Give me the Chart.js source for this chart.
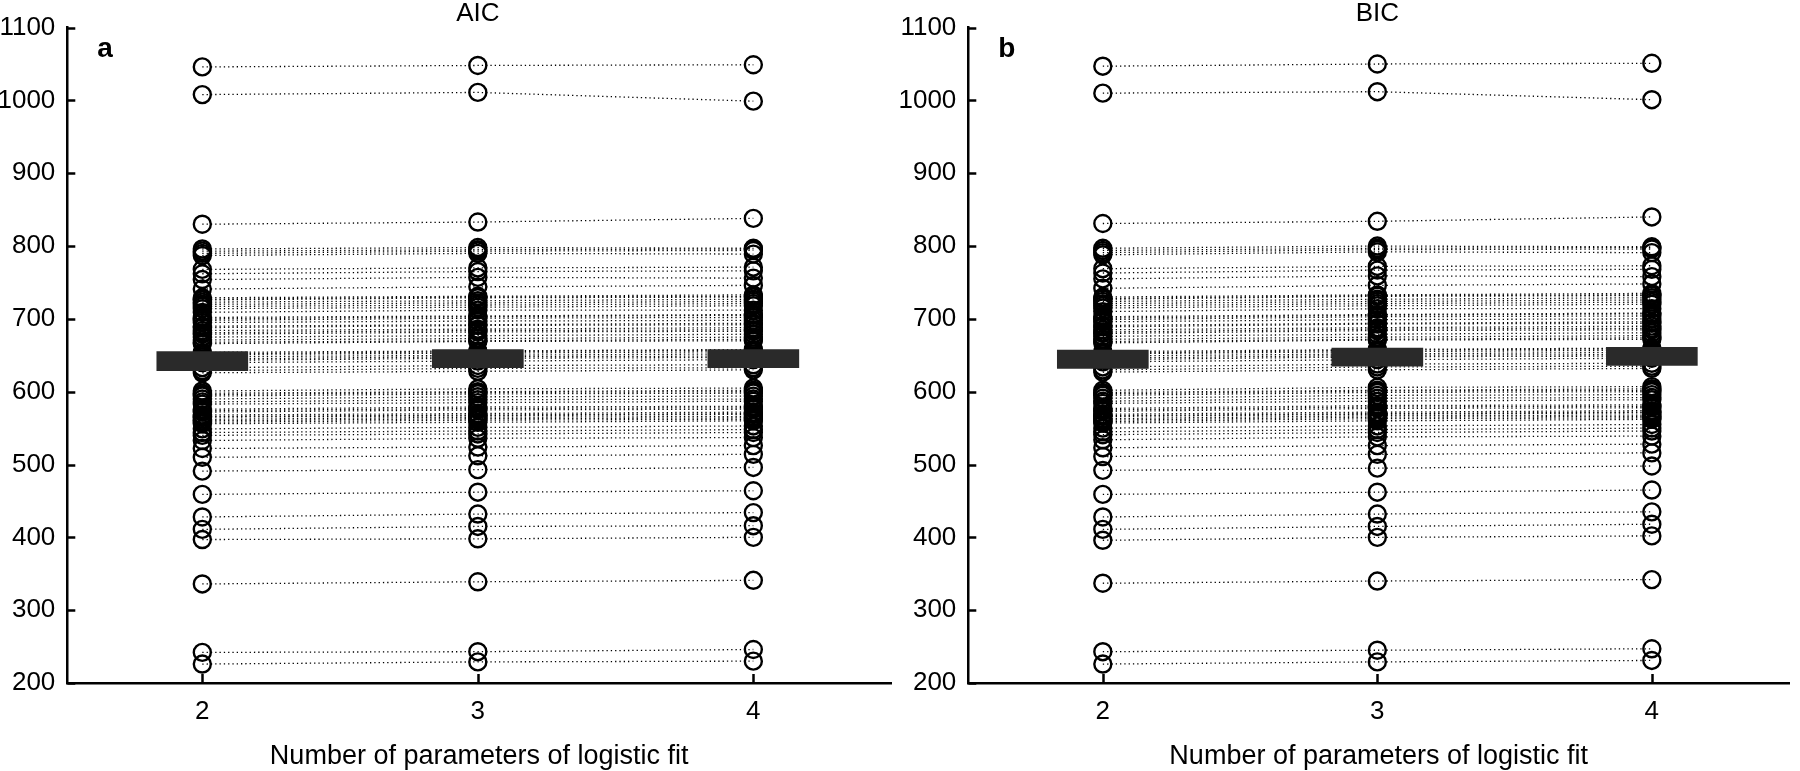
<!DOCTYPE html>
<html>
<head>
<meta charset="utf-8">
<script src="https://cdn.jsdelivr.net/npm/chart.js@4.4.1/dist/chart.umd.min.js"></script>
<style>
  html, body { margin: 0; padding: 0; background: #fff; }
  .panel { position: absolute; top: 0; height: 771px; }
</style>
</head>
<body>
<div class="panel" style="left:0;width:902px"><canvas id="aicChart" width="902" height="771"></canvas></div>
<div class="panel" style="left:900px;width:900px"><canvas id="bicChart" width="900" height="771"></canvas></div>
<script>
// number of parameters of the logistic fit (x categories)
const nParams = [2, 3, 4];
const yTicks = [200, 300, 400, 500, 600, 700, 800, 900, 1000, 1100];

// AIC per subject, for 2 / 3 / 4 parameters
const aic2 = [1046,1008,830,796,793,790,787,768,762,754,741,729,726,723,720,714,709,702,698,695,688,684,679,675,671,666,654,651,648,645,640,633,629,626,601,598,594,590,583,576,572,568,565,562,558,556,544,540,533,522,510,491,459,428,411,397,336,242,226,
              727,717,700,690,681,668,652,643,596,586,574,566,560,549];
const aic3 = [1048,1011,833,798,795,793,790,770,765,757,744,731,729,725,722,716,712,704,701,697,691,686,682,677,673,669,656,653,650,648,642,636,632,628,604,600,597,593,585,579,575,570,567,565,561,558,546,542,536,524,512,493,462,432,415,398,339,243,229,
              730,719,703,692,684,670,655,646,599,589,577,568,563,551];
const aic4 = [1049,999,838,797,796,794,789,771,766,756,746,733,730,727,724,718,712,706,702,698,692,688,683,679,675,670,658,655,652,649,644,637,633,630,605,602,598,594,587,580,576,572,569,566,562,560,548,544,537,526,514,496,464,434,416,400,341,246,230,
              731,721,705,694,685,672,657,647,600,590,578,570,564,553];

// BIC per subject, for 2 / 3 / 4 parameters
const bic2 = [1047,1010,831,797,794,791,788,769,763,755,742,730,727,724,721,715,710,703,699,696,689,685,680,676,672,667,655,652,649,646,641,634,630,627,602,599,595,591,584,577,573,569,566,563,559,557,545,541,534,523,511,492,459,428,411,396,337,243,226,
              728,718,701,691,682,669,653,644,597,587,575,567,561,550];
const bic3 = [1050,1012,834,800,797,795,792,772,767,759,746,733,731,727,724,718,714,706,703,699,693,688,684,679,675,671,658,655,652,650,644,638,634,630,606,602,599,595,587,581,577,572,569,567,563,560,548,544,538,526,514,495,462,432,415,400,340,245,229,
              732,721,705,694,686,672,657,648,601,591,579,570,565,553];
const bic4 = [1051,1001,840,799,798,796,791,773,768,758,748,735,732,729,726,720,714,708,704,700,694,690,685,681,677,672,660,657,654,651,646,639,635,632,607,604,600,596,589,582,578,574,571,568,564,562,550,546,539,528,516,498,465,435,418,402,342,247,231,
              733,723,707,696,687,674,659,649,602,592,580,572,566,555];

// group mean bars (bottom / top edge)
const aicMeanLow = [629, 633, 633];
const aicMeanHigh = [655, 658, 658];
const bicMeanLow = [632, 635, 636];
const bicMeanHigh = [657, 660, 661];

const FONT = 'Liberation Sans, Arial, Helvetica, sans-serif';

// inward tick marks, panel title and panel letter
const decorPlugin = {
    id: 'decor',
    afterDraw(chart, args, opts) {
        const ctx = chart.ctx;
        const xs = chart.scales.x, ys = chart.scales.y;
        const area = chart.chartArea;
        ctx.save();
        ctx.strokeStyle = '#000';
        ctx.lineWidth = 2.5;
        ctx.beginPath();
        yTicks.forEach(v => {
            const py = Math.round(ys.getPixelForValue(v)) + 0.5;
            ctx.moveTo(area.left, py);
            ctx.lineTo(area.left + 8, py);
        });
        nParams.forEach(v => {
            const px = Math.round(xs.getPixelForValue(v)) + 0.5;
            ctx.moveTo(px, area.bottom);
            ctx.lineTo(px, area.bottom - 9);
        });
        ctx.stroke();

        ctx.fillStyle = '#000';
        ctx.textAlign = 'center';
        ctx.textBaseline = 'middle';
        ctx.font = '26px ' + FONT;
        ctx.fillText(opts.title, xs.getPixelForValue(3), 14);

        ctx.textAlign = 'left';
        ctx.textBaseline = 'alphabetic';
        ctx.font = 'bold 28px ' + FONT;
        ctx.fillText(opts.letter, area.left + 30, 57);
        ctx.restore();
    }
};

function makePanel(id, title, letter, s2, s3, s4, low, high, yWidth, padRight) {
    const datasets = [];
    // mean bar drawn on top of the circles
    datasets.push({
        type: 'bar',
        data: nParams.map((p, j) => ({ x: p, y: [low[j], high[j]] })),
        backgroundColor: '#2a2a2a',
        borderWidth: 0,
        barThickness: 91,
        order: 0
    });
    for (let i = 0; i < s2.length; i++) {
        datasets.push({
            type: 'line',
            data: [
                { x: nParams[0], y: s2[i] },
                { x: nParams[1], y: s3[i] },
                { x: nParams[2], y: s4[i] }
            ],
            borderColor: '#000',
            borderWidth: 1.3,
            borderDash: [1.3, 3],
            pointRadius: 8.5,
            pointBorderWidth: 2.4,
            pointBorderColor: '#000',
            pointBackgroundColor: 'rgba(0,0,0,0)',
            fill: false,
            tension: 0,
            order: 1
        });
    }

    return new Chart(document.getElementById(id), {
        type: 'line',
        data: { datasets },
        options: {
            responsive: false,
            animation: false,
            layout: { padding: { top: 26.7, right: padRight, bottom: 0, left: 0 } },
            plugins: {
                legend: { display: false },
                tooltip: { enabled: false },
                decor: { title, letter }
            },
            scales: {
                x: {
                    type: 'linear',
                    min: 1.51,
                    max: 4.5,
                    offset: false,
                    afterBuildTicks: s => { s.ticks = nParams.map(v => ({ value: v })); },
                    afterFit: s => { s.height = 88; },
                    grid: { display: false, drawTicks: false, offset: false },
                    border: { display: true, color: '#000', width: 2.5 },
                    ticks: { color: '#000', padding: 13, font: { family: FONT, size: 26 }, callback: v => String(v) },
                    title: {
                        display: true,
                        text: 'Number of parameters of logistic fit',
                        color: '#000',
                        font: { family: FONT, size: 27, lineHeight: 1 },
                        padding: { top: 0, bottom: 1 }
                    }
                },
                y: {
                    type: 'linear',
                    min: 200,
                    max: 1100,
                    afterBuildTicks: s => { s.ticks = yTicks.map(v => ({ value: v })); },
                    afterFit: s => { s.width = yWidth; },
                    grid: { display: false, drawTicks: false },
                    border: { display: true, color: '#000', width: 2.5 },
                    ticks: { color: '#000', padding: 12, font: { family: FONT, size: 26 }, callback: v => String(v) }
                }
            }
        },
        plugins: [decorPlugin]
    });
}

makePanel('aicChart', 'AIC', 'a', aic2, aic3, aic4, aicMeanLow, aicMeanHigh, 67.3, 3);
makePanel('bicChart', 'BIC', 'b', bic2, bic3, bic4, bicMeanLow, bicMeanHigh, 68.3, 0);
</script>
</body>
</html>
